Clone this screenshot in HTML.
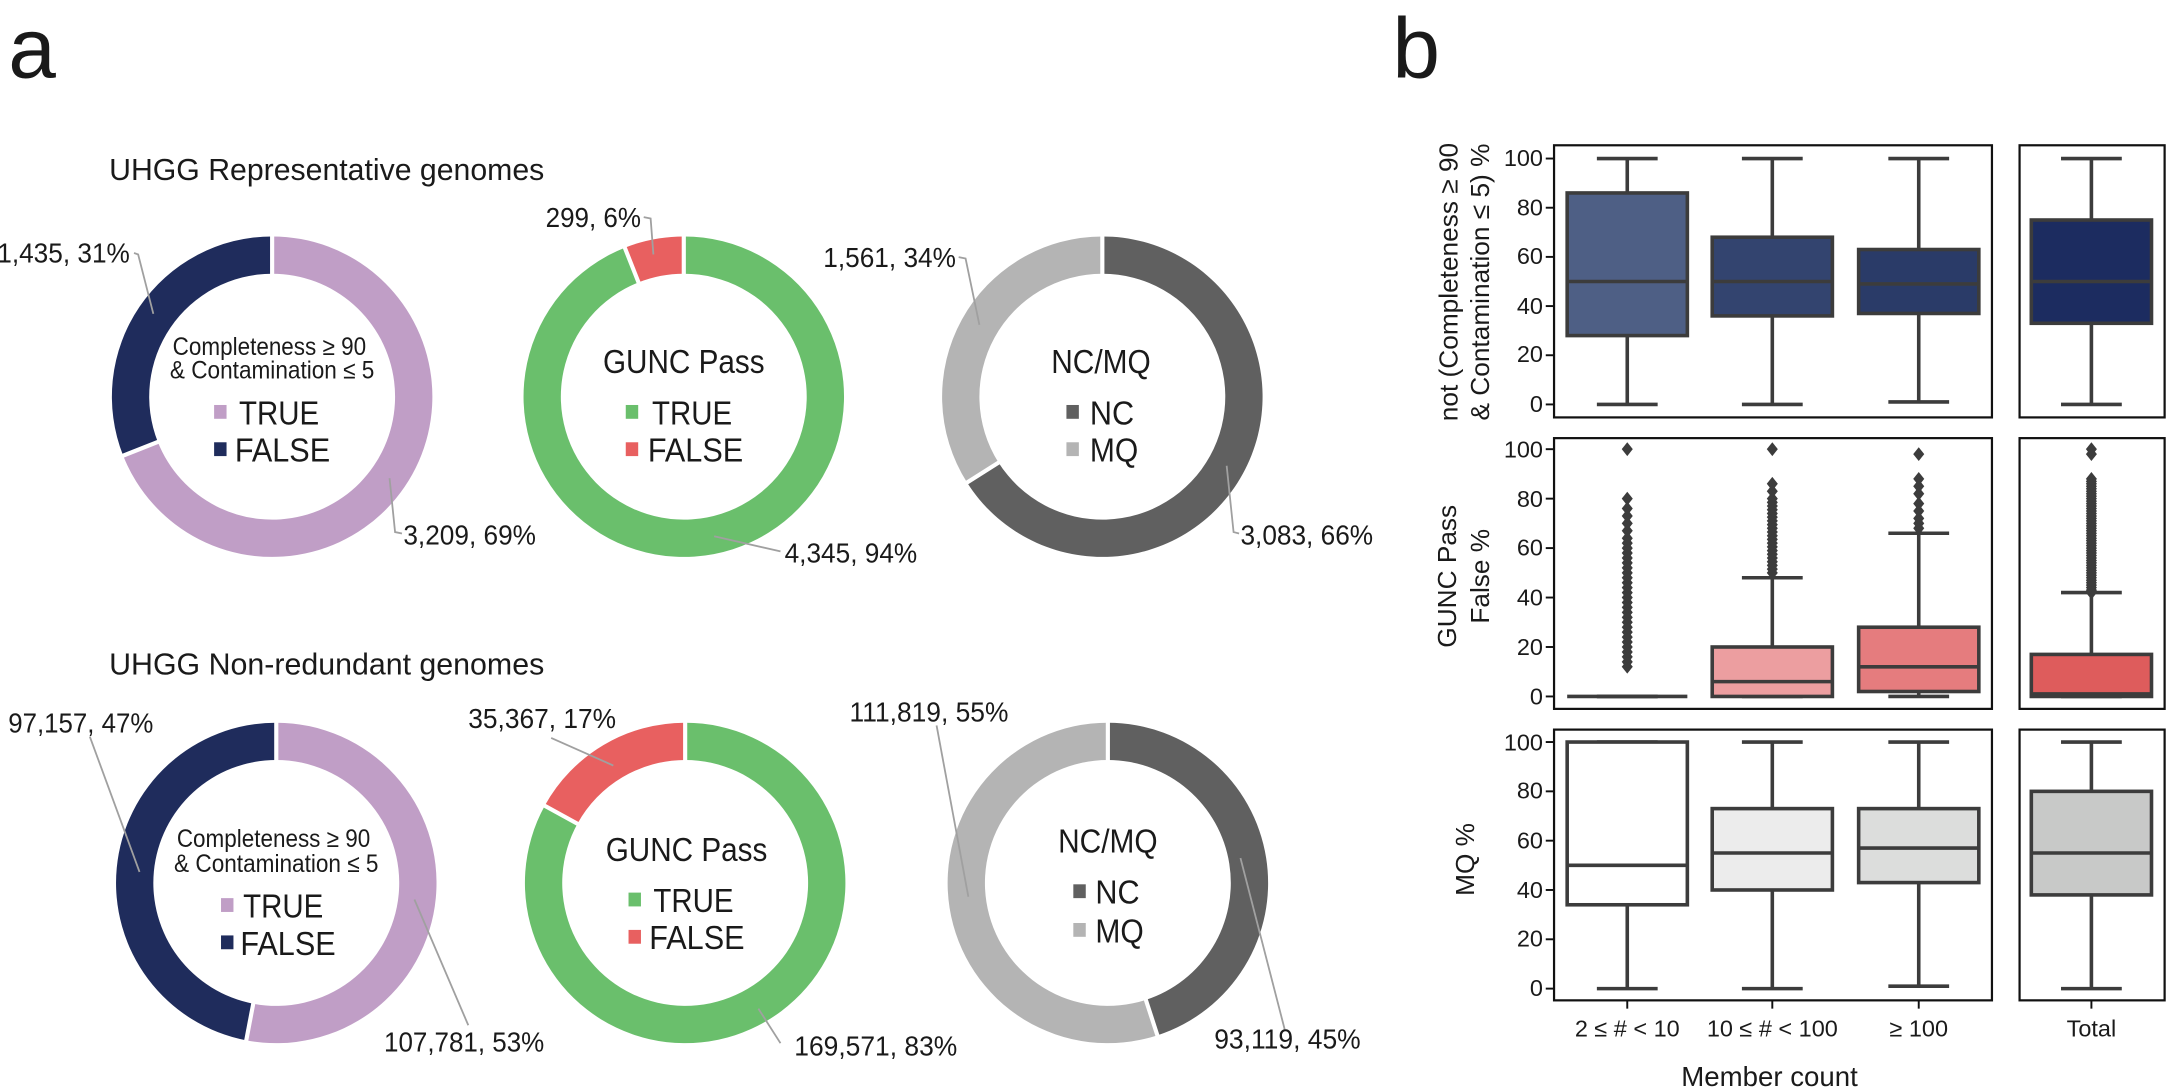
<!DOCTYPE html>
<html><head><meta charset="utf-8">
<style>
html,body{margin:0;padding:0;background:#fff;}
svg{display:block;}
text{font-family:"Liberation Sans Narrow","Liberation Sans",sans-serif;fill:#1a1a1a;}
.ax{font-family:"Liberation Sans",sans-serif;}
</style></head>
<body>
<svg id="s" width="2166" height="1089" viewBox="0 0 1568 788" xmlns="http://www.w3.org/2000/svg">
<rect width="1568" height="788" fill="#fff"/>
<text class="ax" x="6" y="56" font-size="62">a</text>
<text class="ax" x="1008" y="56" font-size="62">b</text>
<text x="79" y="130" font-size="22" textLength="315" lengthAdjust="spacingAndGlyphs">UHGG Representative genomes</text>
<text x="79" y="488" font-size="22" textLength="315" lengthAdjust="spacingAndGlyphs">UHGG Non-redundant genomes</text>
<g id="donuts"></g>
<g id="leaders" stroke="#a0a0a0" stroke-width="1.3" fill="none">
<polyline points="97,183 100,184 111,227"/>
<polyline points="282,346 286,385 291,386"/>
<polyline points="466,157 471,158 473,184"/>
<polyline points="517,388 565,399"/>
<polyline points="694,186 699,187 709,235"/>
<polyline points="888,337 893,385 897,386"/>
<polyline points="65,533 101,631"/>
<polyline points="300,651 339,742"/>
<polyline points="399,534 444,554"/>
<polyline points="549,730 565,755"/>
<polyline points="678,525 701,649"/>
<polyline points="898,621 930,745"/>
</g>
<g font-size="20" lengthAdjust="spacingAndGlyphs">
<text x="-2" y="190" textLength="96" lengthAdjust="spacingAndGlyphs">1,435, 31%</text>
<text x="292" y="394" textLength="96" lengthAdjust="spacingAndGlyphs">3,209, 69%</text>
<text x="395" y="164" textLength="69" lengthAdjust="spacingAndGlyphs">299, 6%</text>
<text x="568" y="407" textLength="96" lengthAdjust="spacingAndGlyphs">4,345, 94%</text>
<text x="596" y="193" textLength="96" lengthAdjust="spacingAndGlyphs">1,561, 34%</text>
<text x="898" y="394" textLength="96" lengthAdjust="spacingAndGlyphs">3,083, 66%</text>
<text x="6" y="530" textLength="105" lengthAdjust="spacingAndGlyphs">97,157, 47%</text>
<text x="278" y="761" textLength="116" lengthAdjust="spacingAndGlyphs">107,781, 53%</text>
<text x="339" y="527" textLength="107" lengthAdjust="spacingAndGlyphs">35,367, 17%</text>
<text x="575" y="764" textLength="118" lengthAdjust="spacingAndGlyphs">169,571, 83%</text>
<text x="615" y="522" textLength="115" lengthAdjust="spacingAndGlyphs">111,819, 55%</text>
<text x="879" y="759" textLength="106" lengthAdjust="spacingAndGlyphs">93,119, 45%</text>
</g>
<g text-anchor="middle">
<text x="195" y="257" font-size="18" textLength="140" lengthAdjust="spacingAndGlyphs">Completeness ≥ 90</text>
<text x="197" y="274" font-size="18" textLength="148" lengthAdjust="spacingAndGlyphs">&amp; Contamination ≤ 5</text>
<text x="495" y="270" font-size="24" textLength="117" lengthAdjust="spacingAndGlyphs">GUNC Pass</text>
<text x="797" y="270" font-size="24" textLength="72" lengthAdjust="spacingAndGlyphs">NC/MQ</text>
<text x="198" y="613" font-size="18" textLength="140" lengthAdjust="spacingAndGlyphs">Completeness ≥ 90</text>
<text x="200" y="631" font-size="18" textLength="148" lengthAdjust="spacingAndGlyphs">&amp; Contamination ≤ 5</text>
<text x="497" y="623" font-size="24" textLength="117" lengthAdjust="spacingAndGlyphs">GUNC Pass</text>
<text x="802" y="617" font-size="24" textLength="72" lengthAdjust="spacingAndGlyphs">NC/MQ</text>
</g>
<g font-size="24">
<rect x="155" y="293" width="9" height="10" fill="#c09ec6"/><text x="173" y="307" textLength="58" lengthAdjust="spacingAndGlyphs">TRUE</text>
<rect x="155" y="320" width="9" height="10" fill="#1f2c5c"/><text x="170" y="334" textLength="69" lengthAdjust="spacingAndGlyphs">FALSE</text>
<rect x="453" y="293" width="9" height="10" fill="#6abf6c"/><text x="472" y="307" textLength="58" lengthAdjust="spacingAndGlyphs">TRUE</text>
<rect x="453" y="320" width="9" height="10" fill="#e86060"/><text x="469" y="334" textLength="69" lengthAdjust="spacingAndGlyphs">FALSE</text>
<rect x="772" y="293" width="9" height="10" fill="#606060"/><text x="789" y="307" textLength="32" lengthAdjust="spacingAndGlyphs">NC</text>
<rect x="772" y="320" width="9" height="10" fill="#b4b4b4"/><text x="789" y="334" textLength="35" lengthAdjust="spacingAndGlyphs">MQ</text>
<rect x="160" y="650" width="9" height="10" fill="#c09ec6"/><text x="176" y="664" textLength="58" lengthAdjust="spacingAndGlyphs">TRUE</text>
<rect x="160" y="677" width="9" height="10" fill="#1f2c5c"/><text x="174" y="691" textLength="69" lengthAdjust="spacingAndGlyphs">FALSE</text>
<rect x="455" y="646" width="9" height="10" fill="#6abf6c"/><text x="473" y="660" textLength="58" lengthAdjust="spacingAndGlyphs">TRUE</text>
<rect x="455" y="673" width="9" height="10" fill="#e86060"/><text x="470" y="687" textLength="69" lengthAdjust="spacingAndGlyphs">FALSE</text>
<rect x="777" y="640" width="9" height="10" fill="#606060"/><text x="793" y="654" textLength="32" lengthAdjust="spacingAndGlyphs">NC</text>
<rect x="777" y="668" width="9" height="10" fill="#b4b4b4"/><text x="793" y="682" textLength="35" lengthAdjust="spacingAndGlyphs">MQ</text>
</g>

<g id="boxes"></g>
<g id="frames" fill="none" stroke="#111" stroke-width="1.6">
<rect x="1125" y="105" width="317" height="197"/>
<rect x="1462" y="105" width="105" height="197"/>
<rect x="1125" y="317" width="317" height="196"/>
<rect x="1462" y="317" width="105" height="196"/>
<rect x="1125" y="528" width="317" height="196"/>
<rect x="1462" y="528" width="105" height="196"/>
</g>
<g id="ticks" stroke="#111" stroke-width="1.4"></g>
<g font-size="17" text-anchor="end" class="ax">
<text class="ax" x="1117" y="120">100</text><text class="ax" x="1117" y="156">80</text><text class="ax" x="1117" y="191">60</text><text class="ax" x="1117" y="227">40</text><text class="ax" x="1117" y="262">20</text><text class="ax" x="1117" y="298">0</text>
<text class="ax" x="1117" y="331">100</text><text class="ax" x="1117" y="367">80</text><text class="ax" x="1117" y="402">60</text><text class="ax" x="1117" y="438">40</text><text class="ax" x="1117" y="474">20</text><text class="ax" x="1117" y="510">0</text>
<text class="ax" x="1117" y="543">100</text><text class="ax" x="1117" y="578">80</text><text class="ax" x="1117" y="614">60</text><text class="ax" x="1117" y="650">40</text><text class="ax" x="1117" y="685">20</text><text class="ax" x="1117" y="721">0</text>
</g>
<g font-size="17" text-anchor="middle">
<text class="ax" x="1178" y="750">2 ≤ # &lt; 10</text>
<text class="ax" x="1283" y="750">10 ≤ # &lt; 100</text>
<text class="ax" x="1389" y="750">≥ 100</text>
<text class="ax" x="1514" y="750">Total</text>
<text class="ax" x="1281" y="786" font-size="20">Member count</text>
</g>
<g font-size="19" text-anchor="middle">
<text class="ax" transform="translate(1055,204) rotate(-90)">not (Completeness ≥ 90</text>
<text class="ax" transform="translate(1078,204) rotate(-90)">&amp; Contamination ≤ 5) %</text>
<text class="ax" transform="translate(1054,417) rotate(-90)">GUNC Pass</text>
<text class="ax" transform="translate(1078,417) rotate(-90)">False %</text>
<text class="ax" transform="translate(1067,622) rotate(-90)">MQ %</text>
</g>
</svg>
<script>
var NS="http://www.w3.org/2000/svg";
function el(p,t,a){var e=document.createElementNS(NS,t);for(var k in a)e.setAttribute(k,a[k]);p.appendChild(e);return e;}
var D=document.getElementById('donuts');
function pt(cx,cy,r,f){var a=f*2*Math.PI;return [cx+r*Math.sin(a),cy-r*Math.cos(a)];}
function donut(cx,cy,segs){var R=116,r=89,s=0;
 segs.forEach(function(g){var e=s+g[0];var large=(g[0]>0.5)?1:0;
  var p1=pt(cx,cy,R,s),p2=pt(cx,cy,R,e),p3=pt(cx,cy,r,e),p4=pt(cx,cy,r,s);
  el(D,'path',{d:'M'+p1+' A'+R+','+R+' 0 '+large+' 1 '+p2+' L'+p3+' A'+r+','+r+' 0 '+large+' 0 '+p4+' Z',fill:g[1]});
  s=e;});
 s=0;segs.forEach(function(g){var a=pt(cx,cy,r-2,s),b=pt(cx,cy,R+2,s);el(D,'line',{x1:a[0],y1:a[1],x2:b[0],y2:b[1],stroke:'#fff','stroke-width':3});s+=g[0];});
}
donut(197,287,[[0.69,'#c09ec6'],[0.31,'#1f2c5c']]);
donut(495,287,[[0.94,'#6abf6c'],[0.06,'#e86060']]);
donut(798,287,[[0.66,'#606060'],[0.34,'#b4b4b4']]);
donut(200,639,[[0.53,'#c09ec6'],[0.47,'#1f2c5c']]);
donut(496,639,[[0.83,'#6abf6c'],[0.17,'#e86060']]);
donut(802,639,[[0.45,'#606060'],[0.55,'#b4b4b4']]);
var T=document.getElementById('ticks');
[[114.6,292.6],[325,504],[537,715.5]].forEach(function(p){for(var i=0;i<=5;i++){var y=p[1]-(p[1]-p[0])*i/5;el(T,'line',{x1:1119,y1:y,x2:1125,y2:y});}});
[1178,1283,1389,1514].forEach(function(x){el(T,'line',{x1:x,y1:724,x2:x,y2:730});});
var B=document.getElementById('boxes');var LC='#3c3c3c';
function box(p,cx,w,q1,m,q3,lo,hi,col,fl){var Y=function(v){return p[1]-(p[1]-p[0])*v/100;};
 el(B,'line',{x1:cx,y1:Y(hi),x2:cx,y2:Y(q3),stroke:LC,'stroke-width':2.6});
 el(B,'line',{x1:cx,y1:Y(q1),x2:cx,y2:Y(lo),stroke:LC,'stroke-width':2.6});
 el(B,'line',{x1:cx-22,y1:Y(hi),x2:cx+22,y2:Y(hi),stroke:LC,'stroke-width':2.6});
 el(B,'line',{x1:cx-22,y1:Y(lo),x2:cx+22,y2:Y(lo),stroke:LC,'stroke-width':2.6});
 if(q3-q1>0.3)el(B,'rect',{x:cx-w/2,y:Y(q3),width:w,height:Y(q1)-Y(q3),fill:col,stroke:LC,'stroke-width':2.6});
 el(B,'line',{x1:cx-w/2,y1:Y(m),x2:cx+w/2,y2:Y(m),stroke:LC,'stroke-width':2.6});
 (fl||[]).forEach(function(v){var y=Y(v);el(B,'path',{d:'M'+cx+','+(y-5)+' L'+(cx+4)+','+y+' L'+cx+','+(y+5)+' L'+(cx-4)+','+y+'Z',fill:LC});});
}
function rng(a,b,s){var r=[];for(var v=a;v<=b;v+=s)r.push(v);return r;}
var P1=[114.6,292.6],P2=[325,504],P3=[537,715.5];
box(P1,1178,87,28,50,86,0,100,'#4e5f85');
box(P1,1283,87,36,50,68,0,100,'#33446f');
box(P1,1389,87,37,49,63,1,100,'#2a3b68');
box(P1,1514,87,33,50,75,0,100,'#1c2c60');
box(P2,1178,87,0,0,0,0,0,'#f0b0b0',rng(12,64,2).concat([67,70,73,76,80,100]));
box(P2,1283,87,0,6,20,0,48,'#ec9ea0',rng(50,80,1.5).concat([83,86,100]));
box(P2,1389,87,2,12,28,0,66,'#e57c7e',[68,70,72,75,78,82,85,88,98]);
box(P2,1514,87,0,1,17,0,42,'#de5c5c',rng(42,88,1).concat([98,100]));
box(P3,1178,87,34,50,100,0,100,'#ffffff');
box(P3,1283,87,40,55,73,0,100,'#ececec');
box(P3,1389,87,43,57,73,1,100,'#dcdddc');
box(P3,1514,87,38,55,80,0,100,'#c8c9c8');
</script>
</body></html>
